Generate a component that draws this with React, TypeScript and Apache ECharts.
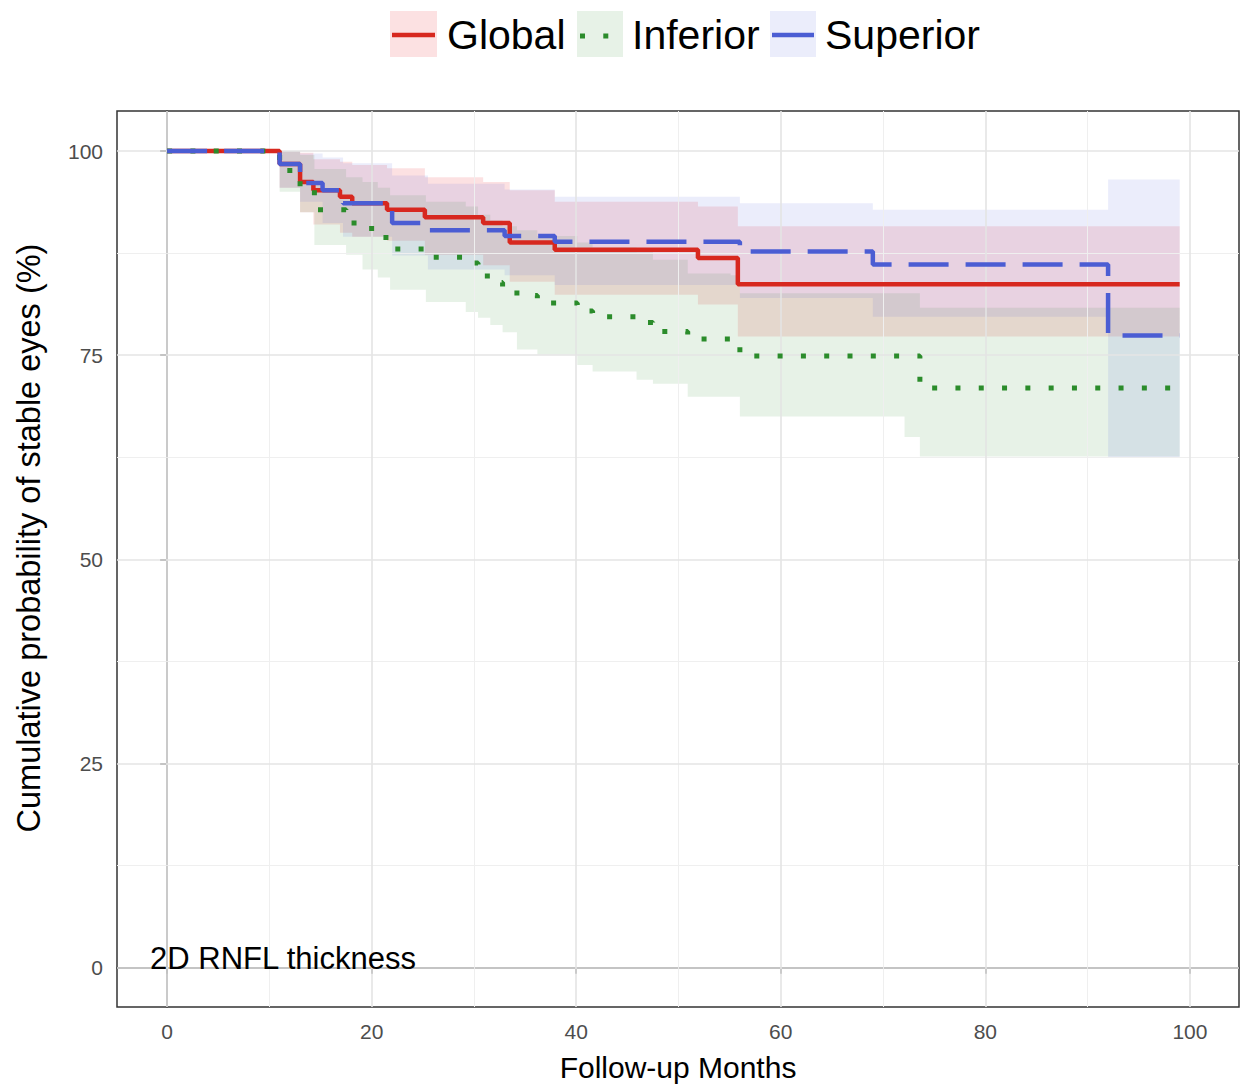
import React, { useEffect, useRef } from "react";
import * as echarts from "echarts";

const FONT = "'Liberation Sans', Arial, Helvetica, sans-serif";

// Global (red)
const globalTimes = [0, 11, 13, 14.3, 16.9, 18.1, 21.5, 25.2, 30.9, 33.5, 37.9, 51.9, 55.8, 99];
const globalSurv = [100, 98.4, 96.2, 95.2, 94.4, 93.6, 92.8, 91.9, 91.2, 88.8, 87.9, 86.9, 83.7, 83.7];
const globalUpper = [100, 100, 99.8, 99.0, 98.7, 98.3, 97.9, 96.8, 96.2, 95.2, 93.8, 93.2, 90.8, 90.8];
const globalLower = [100, 95.5, 92.5, 91.0, 90.0, 89.5, 89.0, 87.3, 86.0, 84.0, 82.4, 81.2, 77.3, 77.3];

// Inferior (green)
const inferiorTimes = [0, 11, 13, 14.4, 17.5, 19.1, 20.6, 21.8, 25.3, 29.2, 30.4, 31.6, 32.8, 34.2, 36.2, 40.1, 41.6, 45.9, 47.5, 50.9, 55.1, 56, 72.1, 73.6, 99];
const inferiorSurv = [100, 97.6, 95.5, 92.8, 91.2, 90.5, 89.4, 88.0, 87.0, 86.3, 84.7, 83.9, 83.0, 82.3, 81.4, 80.4, 79.7, 79.0, 77.9, 77.0, 76.5, 74.9, 74.9, 71.0, 71.0];
const inferiorUpper = [100, 100, 99.5, 97.8, 96.8, 96.2, 95.5, 94.6, 93.8, 93.2, 92.2, 91.5, 90.8, 90.3, 89.6, 88.8, 88.2, 87.6, 86.7, 85.0, 84.8, 82.6, 82.6, 80.8, 80.8];
const inferiorLower = [100, 95.0, 92.5, 88.5, 87.3, 85.5, 84.5, 83.0, 81.5, 80.3, 79.6, 78.7, 77.8, 75.7, 75.1, 73.8, 73.0, 72.0, 71.5, 69.9, 69.9, 67.5, 65.0, 62.6, 62.6];

// Superior (blue)
const superiorTimes = [0, 11, 13, 15.2, 17.2, 22, 25.5, 33, 37.9, 56, 69, 92, 99];
const superiorSurv = [100, 98.4, 96.1, 95.2, 93.6, 91.2, 90.3, 89.6, 88.9, 87.7, 86.1, 77.4, 77.4];
const superiorUpper = [100, 100, 99.7, 99.2, 98.5, 97.0, 96.0, 95.3, 94.4, 93.6, 92.8, 96.5, 96.5];
const superiorLower = [100, 95.5, 93.8, 91.2, 89.5, 87.2, 85.5, 84.8, 83.6, 82.0, 79.7, 62.5, 62.5];

const xTicks = [0, 20, 40, 60, 80, 100];
const xMinor = [10, 30, 50, 70, 90];
const yTicks = [0, 25, 50, 75, 100];
const yMinor = [12.5, 37.5, 62.5, 87.5];

const RED = "#d7281f";
const GREEN = "#2b8c2b";
const BLUE = "#4b5dd3";
const RED_FILL = "rgba(228,26,28,0.13)";
const GREEN_FILL = "rgba(40,140,40,0.11)";
const BLUE_FILL = "rgba(70,90,220,0.11)";

const pts = (t: number[], v: number[]) => t.map((x, i) => [x, v[i]]);

// Step ribbon drawn as one polygon through the axes' scales
function bandSeries(name: string, t: number[], lo: number[], hi: number[], fill: string) {
  const rows = t.map((x, i) => [x, lo[i], hi[i]]);
  return {
    type: "custom",
    name: name + "-band",
    silent: true,
    z: 2,
    clip: true,
    data: [rows[0]],
    encode: { x: 0, y: [1, 2] },
    renderItem: (_params: any, api: any) => {
      const points: number[][] = [];
      for (let i = 0; i < rows.length - 1; i++) {
        points.push(api.coord([rows[i][0], rows[i][2]]));
        points.push(api.coord([rows[i + 1][0], rows[i][2]]));
      }
      for (let i = rows.length - 2; i >= 0; i--) {
        points.push(api.coord([rows[i + 1][0], rows[i][1]]));
        points.push(api.coord([rows[i][0], rows[i][1]]));
      }
      return { type: "polygon", shape: { points }, style: { fill, stroke: "none" } };
    },
  };
}

export default function App() {
  const ref = useRef<HTMLDivElement>(null);
  useEffect(() => {
    if (!ref.current) return;
    const chart = echarts.init(ref.current, undefined, { renderer: "svg" });
    const gridMajor = { color: "#e4e4e4", width: 1.6, type: "solid" };
    const gridMinor = { color: "#efefef", width: 1, type: "solid" };
    const option: any = {
      animation: false,
      backgroundColor: "#ffffff",
      textStyle: { fontFamily: FONT },
      grid: {
        left: 117,
        right: 6,
        top: 111,
        bottom: 79,
        show: true,
        borderColor: "#333333",
        borderWidth: 1.5,
        backgroundColor: "#ffffff",
      },
      xAxis: {
        type: "value",
        min: -4.9,
        max: 104.8,
        splitLine: { show: false },
        axisLine: { show: true, lineStyle: { color: "#333333", width: 1.5 } },
        axisTick: { show: true, customValues: xTicks, length: 6, lineStyle: { color: "#333333", width: 1.5 } },
        axisLabel: { customValues: xTicks, color: "#4d4d4d", fontSize: 21, margin: 14, fontFamily: FONT },
        name: "Follow-up Months",
        nameLocation: "middle",
        nameGap: 45,
        nameTextStyle: { fontSize: 30, color: "#000", fontFamily: FONT },
      },
      yAxis: {
        type: "value",
        min: -4.8,
        max: 104.9,
        splitLine: { show: false },
        axisLine: { show: true, lineStyle: { color: "#333333", width: 1.5 } },
        axisTick: { show: true, customValues: yTicks, length: 7, lineStyle: { color: "#333333", width: 1.5 } },
        axisLabel: { customValues: yTicks, color: "#4d4d4d", fontSize: 21, margin: 14, fontFamily: FONT },
      },
      series: [
        {
          type: "line",
          name: "grid",
          data: [],
          symbol: "none",
          silent: true,
          z: 1,
          markLine: {
            silent: true,
            symbol: ["none", "none"],
            label: { show: false },
            animation: false,
            data: [
              ...xMinor.map((v) => ({ xAxis: v, lineStyle: gridMinor })),
              ...yMinor.map((v) => ({ yAxis: v, lineStyle: gridMinor })),
              ...xTicks.map((v) => ({ xAxis: v, lineStyle: gridMajor })),
              ...yTicks.map((v) => ({ yAxis: v, lineStyle: gridMajor })),
            ],
          },
        },
        bandSeries("Global", globalTimes, globalLower, globalUpper, RED_FILL),
        bandSeries("Inferior", inferiorTimes, inferiorLower, inferiorUpper, GREEN_FILL),
        bandSeries("Superior", superiorTimes, superiorLower, superiorUpper, BLUE_FILL),
        {
          type: "line",
          name: "Global",
          step: "end",
          symbol: "none",
          z: 5,
          lineStyle: { color: RED, width: 4.5, type: "solid", cap: "butt" },
          data: pts(globalTimes, globalSurv),
        },
        {
          type: "line",
          name: "Inferior",
          step: "end",
          symbol: "none",
          z: 6,
          lineStyle: { color: GREEN, width: 5, type: [5, 18.3], cap: "butt" },
          data: pts(inferiorTimes, inferiorSurv),
        },
        {
          type: "line",
          name: "Superior",
          step: "end",
          symbol: "none",
          z: 7,
          lineStyle: { color: BLUE, width: 4.5, type: [40, 17], cap: "butt" },
          data: pts(superiorTimes, superiorSurv),
        },
      ],
      graphic: [
        { type: "rect", shape: { x: 390, y: 11, width: 47, height: 46 }, style: { fill: RED_FILL } },
        { type: "line", shape: { x1: 392, y1: 35, x2: 435, y2: 35 }, style: { stroke: RED, lineWidth: 4.5 } },
        { type: "text", x: 447, y: 35, style: { text: "Global", fontSize: 41, fontFamily: FONT, fill: "#000", verticalAlign: "middle" } },
        { type: "rect", shape: { x: 577, y: 11, width: 46, height: 46 }, style: { fill: GREEN_FILL } },
        { type: "line", shape: { x1: 580, y1: 36, x2: 620, y2: 36 }, style: { stroke: GREEN, lineWidth: 5, lineDash: [5, 18.3] } },
        { type: "text", x: 632, y: 35, style: { text: "Inferior", fontSize: 41, fontFamily: FONT, fill: "#000", verticalAlign: "middle" } },
        { type: "rect", shape: { x: 770, y: 11, width: 46, height: 46 }, style: { fill: BLUE_FILL } },
        { type: "line", shape: { x1: 772, y1: 35, x2: 814, y2: 35 }, style: { stroke: BLUE, lineWidth: 4.5 } },
        { type: "text", x: 825, y: 35, style: { text: "Superior", fontSize: 41, fontFamily: FONT, fill: "#000", verticalAlign: "middle" } },
        { type: "text", x: 150, y: 958, z: 10, style: { text: "2D RNFL thickness", fontSize: 31, fontFamily: FONT, fill: "#000", verticalAlign: "middle" } },
        {
          type: "text",
          x: 29,
          y: 538,
          rotation: Math.PI / 2,
          style: { text: "Cumulative probability of stable eyes (%)", fontSize: 32.5, fontFamily: FONT, fill: "#000", align: "center", verticalAlign: "middle" },
        },
      ],
    };
    chart.setOption(option);
    return () => chart.dispose();
  }, []);
  return <div ref={ref} style={{ position: "absolute", left: 0, top: 0, width: 1245, height: 1087 }} />;
}
